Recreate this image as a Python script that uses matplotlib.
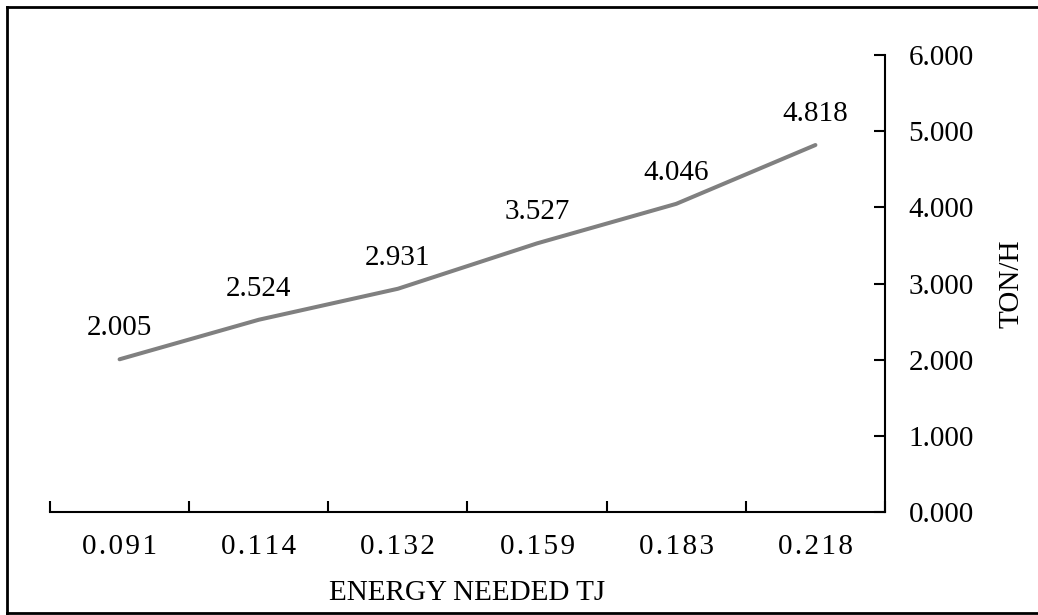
import matplotlib.pyplot as plt
from matplotlib.lines import Line2D

# Chart data
energy = ["0.091", "0.114", "0.132", "0.159", "0.183", "0.218"]
ton_per_hour = [2.005, 2.524, 2.931, 3.527, 4.046, 4.818]
y_ticks = [0, 1, 2, 3, 4, 5, 6]

plt.rcParams['font.family'] = ['Liberation Serif', 'DejaVu Serif']
FS = 21

fig = plt.figure(figsize=(10.38, 6.15), dpi=100)
W, H = 1038, 615
ax = fig.add_axes([50 / W, 1 - 512 / H, (885 - 50) / W, (512 - 55) / H])

x = list(range(len(energy)))
ax.plot(x, ton_per_hour, color='#808080', linewidth=2.9, solid_capstyle='round')

# data labels above the points
for xi, v in zip(x, ton_per_hour):
    ax.annotate(f"{v:.3f}", (xi, v), xytext=(0, 13), textcoords='offset points',
                ha='center', va='bottom', fontsize=FS, color='black')

ax.set_xlim(-0.5, len(energy) - 0.5)
ax.set_ylim(0, 6)

# x axis: category ticks between labels
ax.set_xticks([i - 0.5 for i in range(len(energy) + 1)])
ax.set_xticklabels([])
ax.set_xticks(x, minor=True)
spaced = ["\u200a".join(s) for s in energy]
ax.set_xticklabels(spaced, minor=True, fontsize=FS)
ax.tick_params(axis='x', which='major', direction='in', length=8, width=1.5)
ax.tick_params(axis='x', which='minor', length=0, pad=16)

# y axis on the right
ax.yaxis.tick_right()
ax.yaxis.set_label_position('right')
ax.set_yticks(y_ticks)
ax.set_yticklabels([f"{t:.3f}" for t in y_ticks], fontsize=FS)
ax.tick_params(axis='y', direction='in', length=8, width=1.5, pad=17)

for side in ['top', 'left']:
    ax.spines[side].set_visible(False)
for side in ['bottom', 'right']:
    ax.spines[side].set_linewidth(1.5)

ax.set_xlabel("ENERGY NEEDED TJ", fontsize=FS, labelpad=14)
ax.set_ylabel("TON/H", fontsize=FS, rotation=90, labelpad=18)

# frame around the chart area
fx0, fy0, fy1 = 6.5 / W, 1 - 613 / H, 1 - 6.5 / H
for xs, ys in [([fx0, fx0], [fy0, fy1]), ([fx0, 1.01], [fy1, fy1]), ([fx0, 1.01], [fy0, fy0])]:
    fig.add_artist(Line2D(xs, ys, color='black', linewidth=2, transform=fig.transFigure))

fig.savefig("out.png", dpi=100)
